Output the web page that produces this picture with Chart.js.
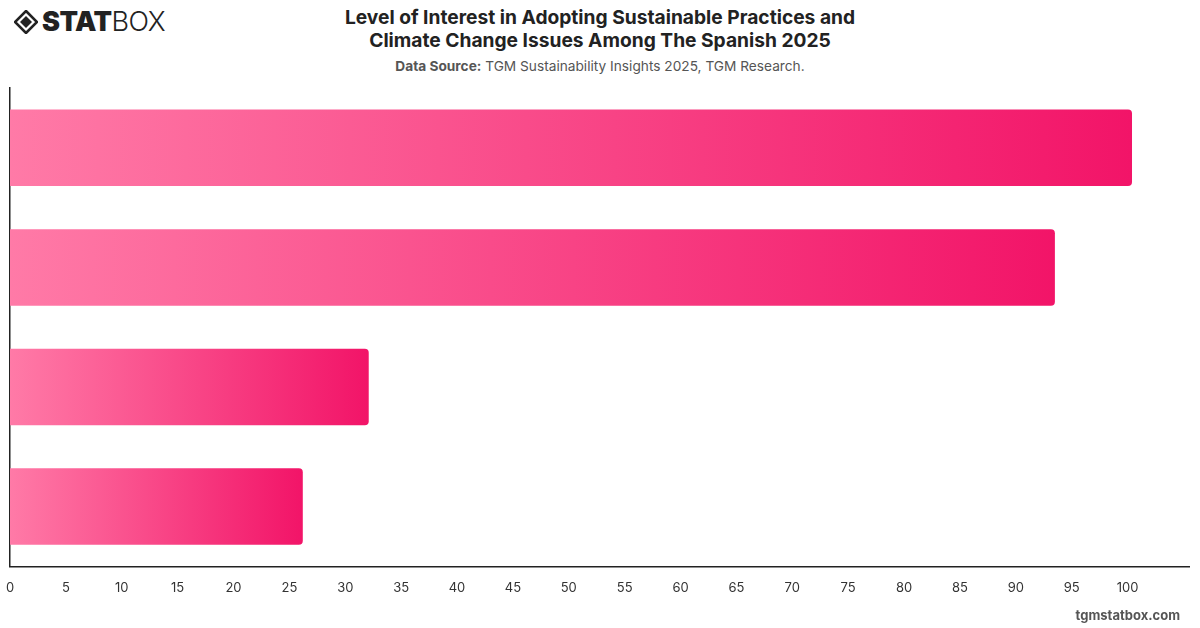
<!DOCTYPE html>
<html>
<head>
<meta charset="utf-8">
<script src="https://cdn.jsdelivr.net/npm/chart.js@4"></script>
<style>
  body { margin: 0; width: 1200px; height: 628px; background: #fff; font-family: Inter, "Noto Sans", sans-serif; overflow: hidden; }
  #wrap { position: relative; width: 1200px; height: 628px; }
  #chart { position: absolute; left: 0; top: 0; }
  .title { position: absolute; top: 6px; left: 0; width: 1200px; text-align: center; font-size: 19.2px; font-weight: 700; color: #222; line-height: 23px; }
  .subtitle { position: absolute; top: 58px; left: 0; width: 1200px; text-align: center; font-size: 13.7px; color: #555; }
  .subtitle b { font-weight: 700; }
  .logo { position: absolute; left: 14px; top: 7px; display: flex; align-items: center; }
  .logo span { font-size: 27px; letter-spacing: -0.5px; color: #222; line-height: 30px; }
  .logo .stat { font-weight: 900; margin-left: 4px; }
  .logo .box { font-weight: 300; }
  .watermark { position: absolute; right: 20px; top: 607px; font-size: 13px; font-weight: 700; color: #555; }
</style>
</head>
<body>
<div id="wrap">
  <div class="logo">
    <svg width="24" height="24" viewBox="0 0 24 24">
      <path d="M12 1 L23 12 L12 23 L1 12 Z" fill="none" stroke="#222" stroke-width="2.6"/>
      <path d="M12 6 L18 12 L12 18 L6 12 Z" fill="#222"/>
    </svg>
    <span class="stat">STAT</span><span class="box">BOX</span>
  </div>
  <div class="title">Level of Interest in Adopting Sustainable Practices and<br>Climate Change Issues Among The Spanish 2025</div>
  <div class="subtitle"><b>Data Source:</b> TGM Sustainability Insights 2025, TGM Research.</div>
  <canvas id="chart" width="1200" height="628"></canvas>
  <div class="watermark">tgmstatbox.com</div>
</div>
<script>
// categories (not shown on the axis in the original)
const categories = ['Very interested', 'Somewhat interested', 'Slightly interested', 'Not interested'];
const interestValues = [100.4, 93.5, 32.1, 26.2];
const xTickValues = [0, 5, 10, 15, 20, 25, 30, 35, 40, 45, 50, 55, 60, 65, 70, 75, 80, 85, 90, 95, 100];

const colorStart = 'rgb(255, 122, 167)';
const colorEnd = 'rgb(242, 20, 104)';

function barGradient(ctx) {
  const chart = ctx.chart;
  if (!chart.chartArea || ctx.raw == null) return colorEnd;
  const xScale = chart.scales.x;
  const x0 = xScale.getPixelForValue(0);
  const x1 = xScale.getPixelForValue(ctx.raw);
  const g = chart.ctx.createLinearGradient(x0, 0, x1, 0);
  g.addColorStop(0, colorStart);
  g.addColorStop(1, colorEnd);
  return g;
}

const canvas = document.getElementById('chart');
new Chart(canvas.getContext('2d'), {
  type: 'bar',
  data: {
    labels: categories,
    datasets: [{
      data: interestValues,
      backgroundColor: barGradient,
      borderRadius: 4,
      borderSkipped: 'start',
      barPercentage: 0.8,
      categoryPercentage: 0.8
    }]
  },
  options: {
    indexAxis: 'y',
    responsive: false,
    animation: false,
    layout: { padding: { top: 88, left: 10, right: 11, bottom: 18 } },
    plugins: { legend: { display: false }, tooltip: { enabled: false } },
    scales: {
      x: {
        min: 0,
        max: 105.5,
        afterBuildTicks: axis => { axis.ticks = xTickValues.map(v => ({ value: v })); },
        afterFit: axis => { axis.paddingLeft = 0; axis.paddingRight = 0; },
        grid: { display: false, drawTicks: false },
        border: { display: true, color: '#222', width: 1.5 },
        ticks: { padding: 14, color: '#333', font: { family: 'Inter', size: 13 } }
      },
      y: {
        afterFit: axis => { axis.width = 0; },
        grid: { display: false, drawTicks: false },
        border: { display: true, color: '#222', width: 1.5 },
        ticks: { display: false }
      }
    }
  }
});
</script>
</body>
</html>
